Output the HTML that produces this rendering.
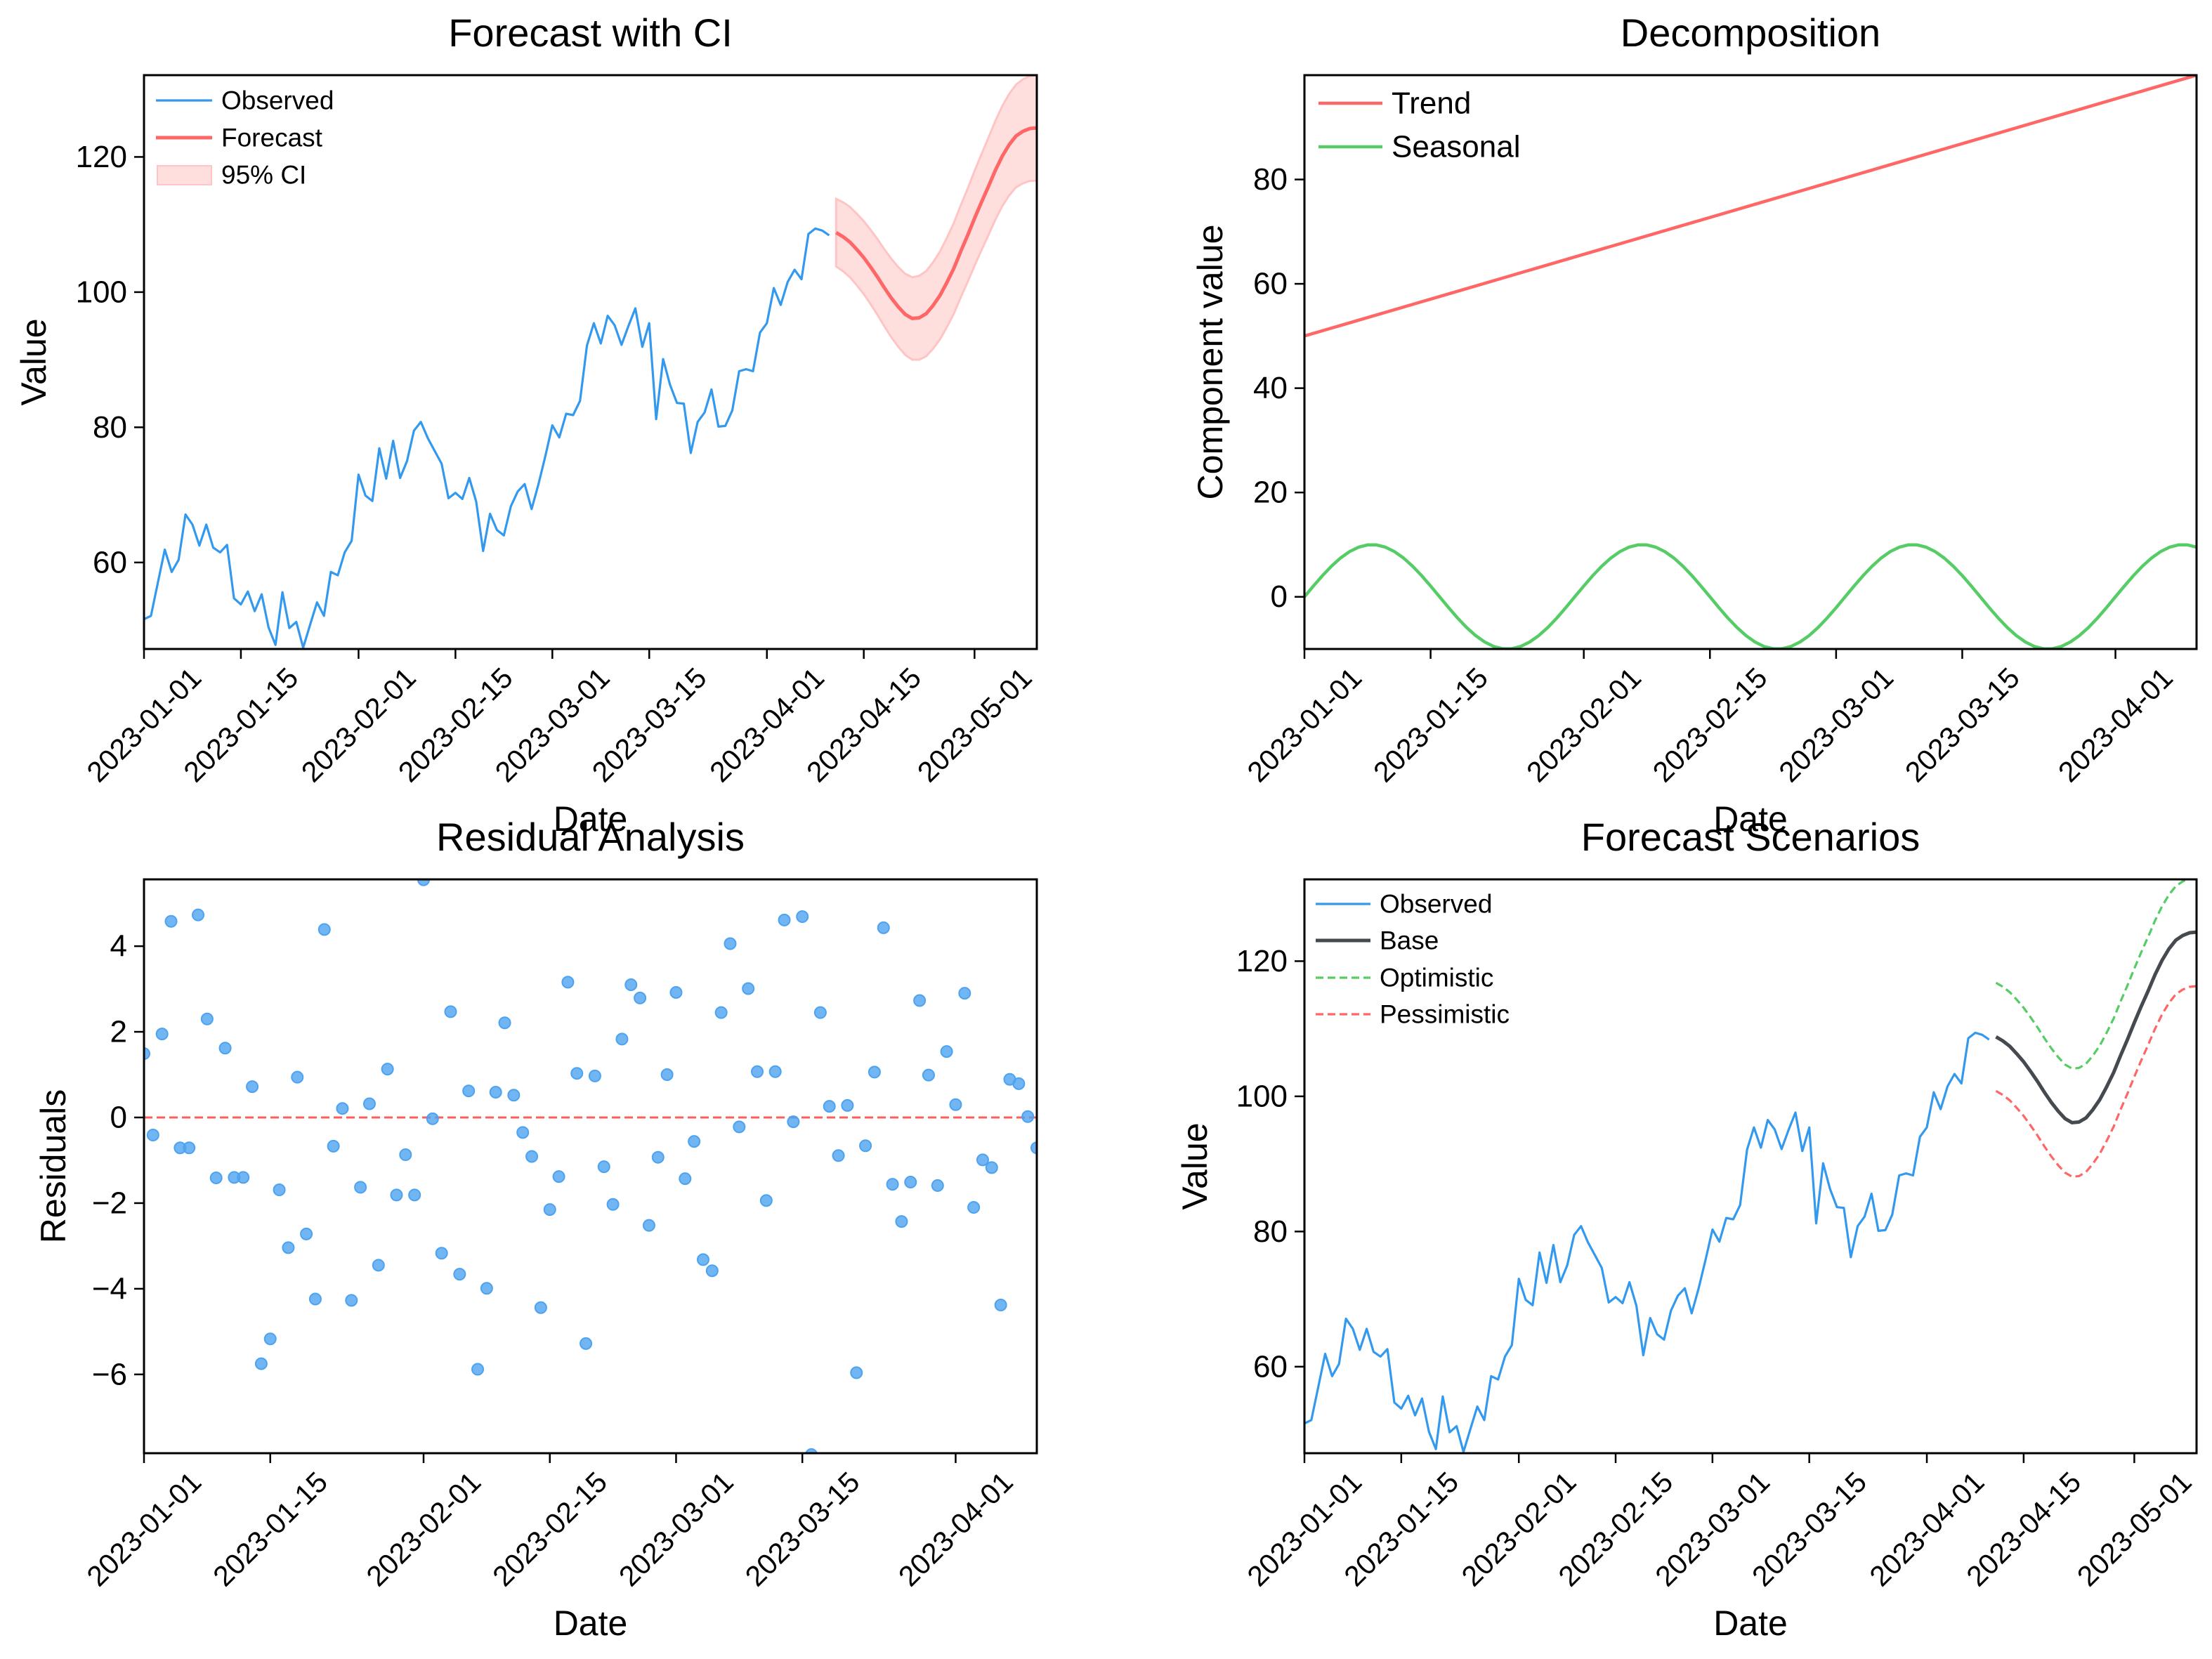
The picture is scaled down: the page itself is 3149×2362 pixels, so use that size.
<!DOCTYPE html>
<html>
<head>
<meta charset="utf-8">
<style>
  html, body { margin: 0; padding: 0; background: #ffffff; }
  svg { display: block; font-family: "Liberation Sans", "DejaVu Sans", sans-serif; }
</style>
</head>
<body>
<svg id="fig" xmlns="http://www.w3.org/2000/svg" width="3149" height="2362" viewBox="0 0 3149 2362">
  <rect x="0" y="0" width="3149" height="2362" fill="#ffffff"/>
</svg>
<script>
// ---------- data ----------
const observedValues = [51.6,52.1,57.0,61.9,58.6,60.4,67.1,65.6,62.5,65.6,62.2,61.5,62.6,54.7,53.8,55.7,52.8,55.3,50.4,47.8,55.6,50.3,51.2,47.4,50.8,54.1,52.1,58.6,58.1,61.5,63.2,73.0,69.9,69.1,76.9,72.4,78.0,72.5,75.0,79.5,80.8,78.4,76.5,74.6,69.5,70.3,69.4,72.5,69.0,61.7,67.2,64.8,64.0,68.3,70.5,71.6,67.9,71.6,75.8,80.3,78.5,82.0,81.8,83.9,92.1,95.4,92.4,96.5,95.1,92.2,95.0,97.6,91.9,95.4,81.2,90.1,86.3,83.6,83.5,76.2,80.8,82.2,85.6,80.1,80.2,82.5,88.3,88.6,88.3,94.0,95.4,100.6,98.1,101.5,103.3,101.9,108.6,109.4,109.1,108.4];
const forecastStartDay = 100;
const forecastValues = [108.8,108.2,107.4,106.3,105.1,103.7,102.2,100.6,99.1,97.8,96.7,96.1,96.2,96.8,98.0,99.5,101.4,103.5,106.0,108.4,110.9,113.3,115.6,118.0,120.1,121.8,123.1,123.8,124.2,124.3];
const ciHalfWidth = [5.0,5.1,5.2,5.3,5.4,5.5,5.6,5.7,5.8,5.9,6.0,6.1,6.2,6.3,6.4,6.5,6.6,6.7,6.8,6.9,7.0,7.1,7.2,7.3,7.4,7.5,7.6,7.7,7.75,7.8];
const optimisticValues = [116.8,116.2,115.4,114.3,113.1,111.7,110.2,108.6,107.1,105.8,104.7,104.1,104.2,104.8,106.0,107.5,109.4,111.5,114.0,116.4,118.9,121.3,123.6,126.0,128.1,129.8,131.1,131.8,132.2,132.3];
const pessimisticValues = [100.8,100.2,99.4,98.3,97.1,95.7,94.2,92.6,91.1,89.8,88.7,88.1,88.2,88.8,90.0,91.5,93.4,95.5,98.0,100.4,102.9,105.3,107.6,110.0,112.1,113.8,115.1,115.8,116.2,116.3];
const trendDays = [0, 99];
const trendValues = [50, 100];
const seasonalCycle = [0,2.08,4.07,5.88,7.43,8.66,9.51,9.95,9.95,9.51,8.66,7.43,5.88,4.07,2.08,0,-2.08,-4.07,-5.88,-7.43,-8.66,-9.51,-9.95,-9.95,-9.51,-8.66,-7.43,-5.88,-4.07,-2.08];
const residualValues = [1.49,-0.41,1.95,4.58,-0.71,-0.71,4.73,2.30,-1.41,1.62,-1.40,-1.40,0.72,-5.75,-5.17,-1.69,-3.04,0.94,-2.72,-4.24,4.39,-0.67,0.21,-4.27,-1.63,0.32,-3.45,1.13,-1.81,-0.87,-1.81,5.55,-0.03,-3.17,2.47,-3.66,0.62,-5.88,-3.99,0.59,2.21,0.52,-0.35,-0.91,-4.44,-2.15,-1.38,3.16,1.03,-5.28,0.97,-1.15,-2.03,1.83,3.10,2.79,-2.52,-0.93,1.00,2.92,-1.43,-0.56,-3.32,-3.58,2.45,4.06,-0.22,3.01,1.07,-1.94,1.07,4.61,-0.10,4.69,-7.87,2.45,0.26,-0.89,0.28,-5.96,-0.66,1.06,4.43,-1.56,-2.43,-1.51,2.73,0.99,-1.59,1.54,0.30,2.90,-2.10,-0.99,-1.17,-4.38,0.89,0.79,0.02,-0.71];
const dateTickDays = [0,14,31,45,59,73,90,104,120];
const dateTickLabels = ["2023-01-01","2023-01-15","2023-02-01","2023-02-15","2023-03-01","2023-03-15","2023-04-01","2023-04-15","2023-05-01"];
const valueTicks = [60,80,100,120];
const componentTicks = [0,20,40,60,80];
const residualTicks = [-6,-4,-2,0,2,4];

// ---------- helpers ----------
const NS = "http://www.w3.org/2000/svg";
const svg = document.getElementById('fig');
function mk(tag, attrs, parent) {
  const e = document.createElementNS(NS, tag);
  for (const k in attrs) e.setAttribute(k, attrs[k]);
  (parent || svg).appendChild(e);
  return e;
}
function makeAxes(id, box, xdom, ydom) {
  const ax = {box, xdom, ydom};
  ax.x = d => box.x0 + (d - xdom[0]) / (xdom[1] - xdom[0]) * (box.x1 - box.x0);
  ax.y = v => box.y1 - (v - ydom[0]) / (ydom[1] - ydom[0]) * (box.y1 - box.y0);
  const cp = mk('clipPath', {id: 'clip-' + id});
  mk('rect', {x: box.x0, y: box.y0, width: box.x1 - box.x0, height: box.y1 - box.y0}, cp);
  ax.g = mk('g', {'clip-path': 'url(#clip-' + id + ')'});
  
  
  return ax;
}
function pathFrom(ax, days, vals) {
  return days.map((d, i) => (i ? 'L' : 'M') + ax.x(d).toFixed(1) + ',' + ax.y(vals[i]).toFixed(1)).join(' ');
}
function drawFrame(ax, name, yTicks, xTickDays, xTickLabels, title, xlabel, ylabel, ylabelX) {
  const b = ax.box;
  const g = mk('g', {});
  
  
  mk('rect', {x: b.x0, y: b.y0, width: b.x1 - b.x0, height: b.y1 - b.y0, fill: 'none', stroke: '#000', 'stroke-width': 3}, g);
  yTicks.forEach(t => {
    const y = ax.y(t);
    mk('line', {x1: b.x0 - 14, x2: b.x0, y1: y, y2: y, stroke: '#000', 'stroke-width': 2.5}, g);
    const tx = mk('text', {x: b.x0 - 24, y: y, 'text-anchor': 'end', 'dominant-baseline': 'central', 'font-size': 44, fill: '#000'}, g);
    
    
    tx.textContent = (t < 0 ? '\u2212' + Math.abs(t) : String(t));
  });
  xTickDays.forEach((d, i) => {
    if (d > ax.xdom[1] + 0.01) return;
    const x = ax.x(d);
    mk('line', {x1: x, x2: x, y1: b.y1, y2: b.y1 + 14, stroke: '#000', 'stroke-width': 2.5}, g);
    const cx = x, cy = b.y1 + 108;
    const tx = mk('text', {x: cx, y: cy, 'text-anchor': 'middle', 'dominant-baseline': 'central', 'font-size': 41, fill: '#000', transform: 'rotate(-45 ' + cx + ' ' + cy + ')'}, g);
    
    
    tx.textContent = xTickLabels[i];
  });
  const cxm = (b.x0 + b.x1) / 2;
  const t = mk('text', {x: cxm, y: b.y0 - 41, 'text-anchor': 'middle', 'font-size': 56, fill: '#000'}, g);
  
  
  t.textContent = title;
  const xl = mk('text', {x: cxm, y: b.y1 + 259, 'text-anchor': 'middle', 'font-size': 50, fill: '#000'}, g);
  
  
  xl.textContent = xlabel;
  const cym = (b.y0 + b.y1) / 2;
  const yl = mk('text', {x: ylabelX, y: cym, 'text-anchor': 'middle', 'dominant-baseline': 'central', 'font-size': 50, fill: '#000', transform: 'rotate(-90 ' + ylabelX + ' ' + cym + ')'}, g);
  
  
  yl.textContent = ylabel;
}
function legendLine(x, y, color, width, dash, label, fontSize, lineLen, name) {
  const g = mk('g', {});
  
  
  const a = {x1: x, x2: x + lineLen, y1: y, y2: y, stroke: color, 'stroke-width': width};
  if (dash) a['stroke-dasharray'] = dash;
  mk('line', a, g);
  const t = mk('text', {x: x + lineLen + 13, y: y, 'dominant-baseline': 'central', 'font-size': fontSize, fill: '#000'}, g);
  t.textContent = label;
}

const observedDays = observedValues.map((v, i) => i);
const forecastDays = forecastValues.map((v, i) => forecastStartDay + i);
const BLUE = '#3399ee', RED = '#ff6666', GREEN = '#55cc66', DARK = '#454a50';

// ---------- Panel 1: Forecast with CI ----------
const A1 = makeAxes('forecast-ci', {x0: 205, x1: 1476, y0: 107, y1: 924}, [0, 129], [47.2, 132.1]);
{
  const upper = forecastValues.map((v, i) => v + ciHalfWidth[i]);
  const lower = forecastValues.map((v, i) => v - ciHalfWidth[i]);
  const d = pathFrom(A1, forecastDays, upper) + ' ' +
    forecastDays.slice().reverse().map((dd, i) => 'L' + A1.x(dd).toFixed(1) + ',' + A1.y(lower[lower.length - 1 - i]).toFixed(1)).join(' ') + ' Z';
  const band = mk('path', {d: d, fill: '#ffdede', stroke: '#ffc4c4', 'stroke-width': 3}, A1.g);
  
  
  const obs = mk('path', {d: pathFrom(A1, observedDays, observedValues), fill: 'none', stroke: BLUE, 'stroke-width': 3.2, 'stroke-linejoin': 'round'}, A1.g);
  
  
  const fc = mk('path', {d: pathFrom(A1, forecastDays, forecastValues), fill: 'none', stroke: RED, 'stroke-width': 5, 'stroke-linejoin': 'round'}, A1.g);
  
  
}
drawFrame(A1, 'forecast-ci', valueTicks, dateTickDays, dateTickLabels, 'Forecast with CI', 'Date', 'Value', 48);
legendLine(222, 143, BLUE, 3.2, null, 'Observed', 37, 80, 'legend-observed');
legendLine(222, 196, RED, 5, null, 'Forecast', 37, 80, 'legend-forecast');
{
  const g = mk('g', {});
  
  
  mk('rect', {x: 224, y: 236, width: 77, height: 27, fill: '#ffdede', stroke: '#ffc4c4', 'stroke-width': 2}, g);
  const t = mk('text', {x: 315, y: 249, 'dominant-baseline': 'central', 'font-size': 37, fill: '#000'}, g);
  t.textContent = '95% CI';
}

// ---------- Panel 2: Decomposition ----------
const A2 = makeAxes('decomposition', {x0: 1857, x1: 3127, y0: 107, y1: 924}, [0, 99], [-10, 100]);
{
  const tr = mk('path', {d: pathFrom(A2, trendDays, trendValues), fill: 'none', stroke: RED, 'stroke-width': 4.5}, A2.g);
  
  
  const sDays = observedDays;
  const sVals = sDays.map(d => seasonalCycle[d % seasonalCycle.length]);
  const se = mk('path', {d: pathFrom(A2, sDays, sVals), fill: 'none', stroke: GREEN, 'stroke-width': 4.5, 'stroke-linejoin': 'round'}, A2.g);
  
  
}
drawFrame(A2, 'decomposition', componentTicks, dateTickDays, dateTickLabels, 'Decomposition', 'Date', 'Component value', 1723);
legendLine(1877, 147, RED, 4.5, null, 'Trend', 44, 91, 'legend-trend');
legendLine(1877, 209, GREEN, 4.5, null, 'Seasonal', 44, 91, 'legend-seasonal');

// ---------- Panel 3: Residual Analysis ----------
const A3 = makeAxes('residuals', {x0: 205, x1: 1476, y0: 1252, y1: 2069}, [0, 99], [-7.84, 5.56]);
{
  const zl = mk('line', {x1: A3.box.x0, x2: A3.box.x1, y1: A3.y(0), y2: A3.y(0), stroke: '#ff5c5c', 'stroke-width': 3, 'stroke-dasharray': '12,6'}, A3.g);
  
  
  residualValues.forEach((v, i) => {
    const c = mk('circle', {cx: A3.x(i), cy: A3.y(v), r: 8, fill: '#4da3f0', 'fill-opacity': 0.8, stroke: '#4da3f0', 'stroke-width': 2}, A3.g);
    
    
  });
}
drawFrame(A3, 'residuals', residualTicks, dateTickDays, dateTickLabels, 'Residual Analysis', 'Date', 'Residuals', 76);

// ---------- Panel 4: Forecast Scenarios ----------
const A4 = makeAxes('scenarios', {x0: 1857, x1: 3127, y0: 1252, y1: 2069}, [0, 129], [47.2, 132.1]);
{
  const obs = mk('path', {d: pathFrom(A4, observedDays, observedValues), fill: 'none', stroke: BLUE, 'stroke-width': 3.2, 'stroke-linejoin': 'round'}, A4.g);
  
  
  const base = mk('path', {d: pathFrom(A4, forecastDays, forecastValues), fill: 'none', stroke: DARK, 'stroke-width': 5, 'stroke-linejoin': 'round'}, A4.g);
  
  
  const opt = mk('path', {d: pathFrom(A4, forecastDays, optimisticValues), fill: 'none', stroke: GREEN, 'stroke-width': 3.2, 'stroke-dasharray': '11,6'}, A4.g);
  
  
  const pes = mk('path', {d: pathFrom(A4, forecastDays, pessimisticValues), fill: 'none', stroke: RED, 'stroke-width': 3.2, 'stroke-dasharray': '11,6'}, A4.g);
  
  
}
drawFrame(A4, 'scenarios', valueTicks, dateTickDays, dateTickLabels, 'Forecast Scenarios', 'Date', 'Value', 1701);
legendLine(1873, 1287, BLUE, 3.2, null, 'Observed', 37, 78, 'legend-observed');
legendLine(1873, 1339, DARK, 5, null, 'Base', 37, 78, 'legend-base');
legendLine(1873, 1392, GREEN, 3.2, '11,6', 'Optimistic', 37, 78, 'legend-optimistic');
legendLine(1873, 1444, RED, 3.2, '11,6', 'Pessimistic', 37, 78, 'legend-pessimistic');
</script>
</body>
</html>
